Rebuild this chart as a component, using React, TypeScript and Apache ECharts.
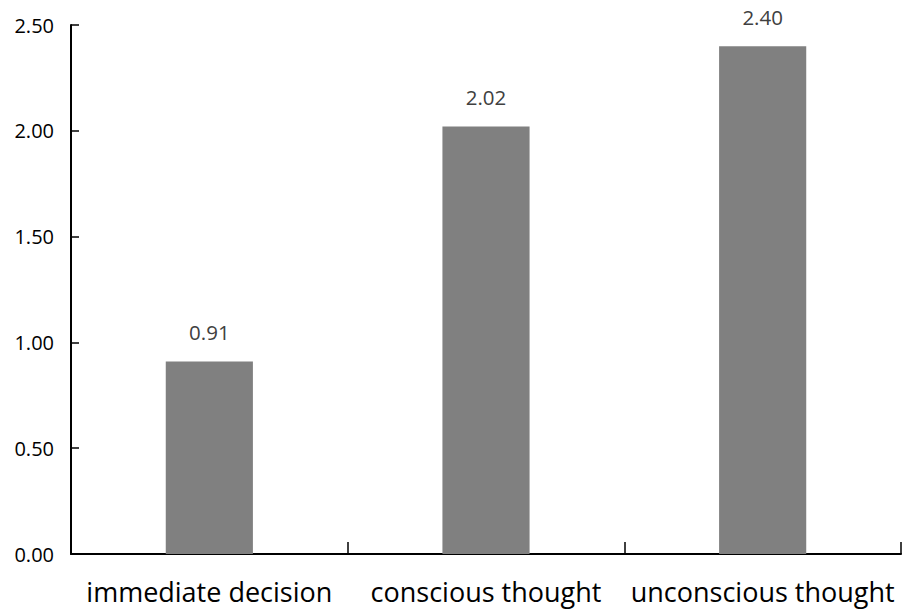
import React, { useEffect, useRef } from "react";
import * as echarts from "echarts";

const categories = ["immediate decision", "conscious thought", "unconscious thought"];
const values = [0.91, 2.02, 2.4];
const yMin = 0;
const yMax = 2.5;
const yStep = 0.5;

export default function App() {
  const ref = useRef<HTMLDivElement>(null);

  useEffect(() => {
    if (!ref.current) return;
    const chart = echarts.init(ref.current, undefined, { renderer: "svg" });
    chart.setOption({
      animation: false,
      backgroundColor: "#ffffff",
      textStyle: { fontFamily: "Open Sans" },
      grid: { left: 71, right: 1, top: 25, bottom: 60, containLabel: false },
      xAxis: {
        type: "category",
        data: categories,
        boundaryGap: true,
        axisLine: { show: true, lineStyle: { color: "#000000", width: 2 } },
        axisTick: { show: true, inside: true, length: 12, alignWithLabel: false, lineStyle: { color: "#000000", width: 1.5 } },
        axisLabel: { interval: 0, color: "#000000", fontSize: 27, margin: 24, fontFamily: "Open Sans" },
        splitLine: { show: false },
      },
      yAxis: {
        type: "value",
        min: yMin,
        max: yMax,
        interval: yStep,
        axisLine: { show: true, lineStyle: { color: "#000000", width: 2 } },
        axisTick: { show: true, inside: true, length: 8, lineStyle: { color: "#000000", width: 1.5 } },
        axisLabel: {
          color: "#000000",
          fontSize: 20,
          margin: 17,
          fontFamily: "Open Sans",
          formatter: (v: number) => v.toFixed(2),
        },
        splitLine: { show: false },
      },
      series: [
        {
          type: "bar",
          data: values,
          barWidth: "31.5%",
          itemStyle: { color: "#808080" },
          label: {
            show: true,
            position: "top",
            distance: 19,
            color: "#404040",
            fontSize: 20.5,
            fontFamily: "Open Sans",
            formatter: (p: any) => Number(p.value).toFixed(2),
          },
        },
      ],
    });
    return () => chart.dispose();
  }, []);

  return (
    <div
      ref={ref}
      style={{ position: "fixed", left: 0, top: 0, width: 902, height: 614, background: "#ffffff" }}
    />
  );
}
